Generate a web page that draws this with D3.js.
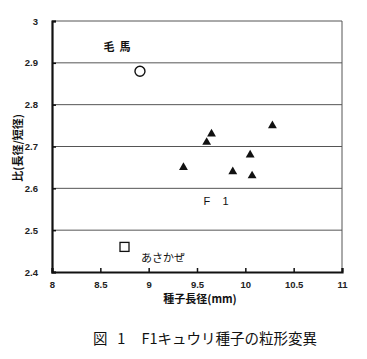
<!DOCTYPE html>
<html>
<head>
<meta charset="utf-8">
<script src="https://cdn.jsdelivr.net/npm/d3@7/dist/d3.min.js"></script>
<style>
  body { margin: 0; background: #fff; }
  text { font-family: "Noto Sans CJK JP", "Noto Sans", sans-serif; fill: #111; white-space: pre; }
</style>
</head>
<body>
<div id="viz"></div>
<script>
// F1 hybrids (triangles)
var f1X = [9.36, 9.60, 9.65, 9.87, 10.05, 10.07, 10.28];
var f1Y = [2.65, 2.71, 2.73, 2.64, 2.68, 2.63, 2.75];
// parents
var kebaX = [8.91], kebaY = [2.88];     // 毛馬 (circle)
var asakazeX = [8.75], asakazeY = [2.46]; // あさかぜ (square)

var xTicks = [8, 8.5, 9, 9.5, 10, 10.5, 11];
var yTicks = [2.4, 2.5, 2.6, 2.7, 2.8, 2.9, 3];

var W = 367, H = 359;
var svg = d3.select("#viz").append("svg").attr("width", W).attr("height", H);

var x = d3.scaleLinear().domain([8, 11]).range([52, 342]);
var y = d3.scaleLinear().domain([2.4, 3]).range([272, 21]);

// gridlines
svg.append("g").selectAll("line").data(yTicks.slice(1)).enter().append("line")
    .attr("x1", x(8)).attr("x2", x(11))
    .attr("y1", function(d){ return y(d); }).attr("y2", function(d){ return y(d); })
    .style("stroke", "#555").style("stroke-width", 1);

// right border
svg.append("line").attr("x1", x(11)).attr("x2", x(11)).attr("y1", y(3)).attr("y2", y(2.4))
    .style("stroke", "#555").style("stroke-width", 1);

// axes
var xAxis = svg.append("g").attr("transform", "translate(0," + y(2.4) + ")")
    .call(d3.axisBottom(x).tickValues(xTicks).tickSize(-4).tickPadding(9)
        .tickFormat(function(d){ return d; }));
var yAxis = svg.append("g").attr("transform", "translate(" + x(8) + ",0)")
    .call(d3.axisLeft(y).tickValues(yTicks).tickSize(-4).tickPadding(14)
        .tickFormat(function(d){ return d; }));
[xAxis, yAxis].forEach(function(a) {
    a.select(".domain").style("stroke", "#111").style("stroke-width", 2.2);
    a.selectAll(".tick line").style("stroke", "#111").style("stroke-width", 1.5);
    a.selectAll(".tick text").style("font-size", "9.5px").style("font-weight", "bold")
        .style("font-family", "Liberation Sans, Arial, sans-serif").style("fill", "#222");
});

// triangles
svg.append("g").selectAll("path").data(f1X).enter().append("path")
    .attr("d", d3.symbol().type(d3.symbolTriangle).size(34))
    .attr("transform", function(d, i){ return "translate(" + x(d) + "," + y(f1Y[i]) + ")"; })
    .style("fill", "#111");

// circle
svg.append("g").selectAll("circle").data(kebaX).enter().append("circle")
    .attr("cx", function(d){ return x(d); }).attr("cy", function(d, i){ return y(kebaY[i]); })
    .attr("r", 5).style("fill", "white").style("stroke", "#111").style("stroke-width", 1.4);

// square
svg.append("g").selectAll("rect").data(asakazeX).enter().append("rect")
    .attr("x", function(d){ return x(d) - 4.5; }).attr("y", function(d, i){ return y(asakazeY[i]) - 4.5; })
    .attr("width", 9).attr("height", 9)
    .style("fill", "white").style("stroke", "#111").style("stroke-width", 1.3);

// point labels
svg.append("text").attr("x", 117).attr("y", 51).attr("text-anchor", "middle")
    .style("font-size", "11px").style("font-weight", "bold").text("毛  馬");
svg.append("text").attr("x", 216).attr("y", 205).attr("text-anchor", "middle")
    .style("font-size", "11px").style("font-family", "Liberation Sans, Arial, sans-serif").text("F    1");
svg.append("text").attr("x", 163).attr("y", 262).attr("text-anchor", "middle")
    .style("font-size", "11px").text("あさかぜ");

// axis titles
svg.append("text").attr("x", 200).attr("y", 303).attr("text-anchor", "middle")
    .style("font-size", "11px").style("font-weight", "bold").text("種子長径(mm)");
svg.append("text").attr("transform", "translate(22,148) rotate(-90)").attr("text-anchor", "middle")
    .style("font-size", "11px").style("font-weight", "bold").text("比(長径/短径)");

// caption
svg.append("text").attr("x", 93).attr("y", 344)
    .style("font-size", "14.5px").text("図   1     F1キュウリ種子の粒形変異");
</script>
</body>
</html>
